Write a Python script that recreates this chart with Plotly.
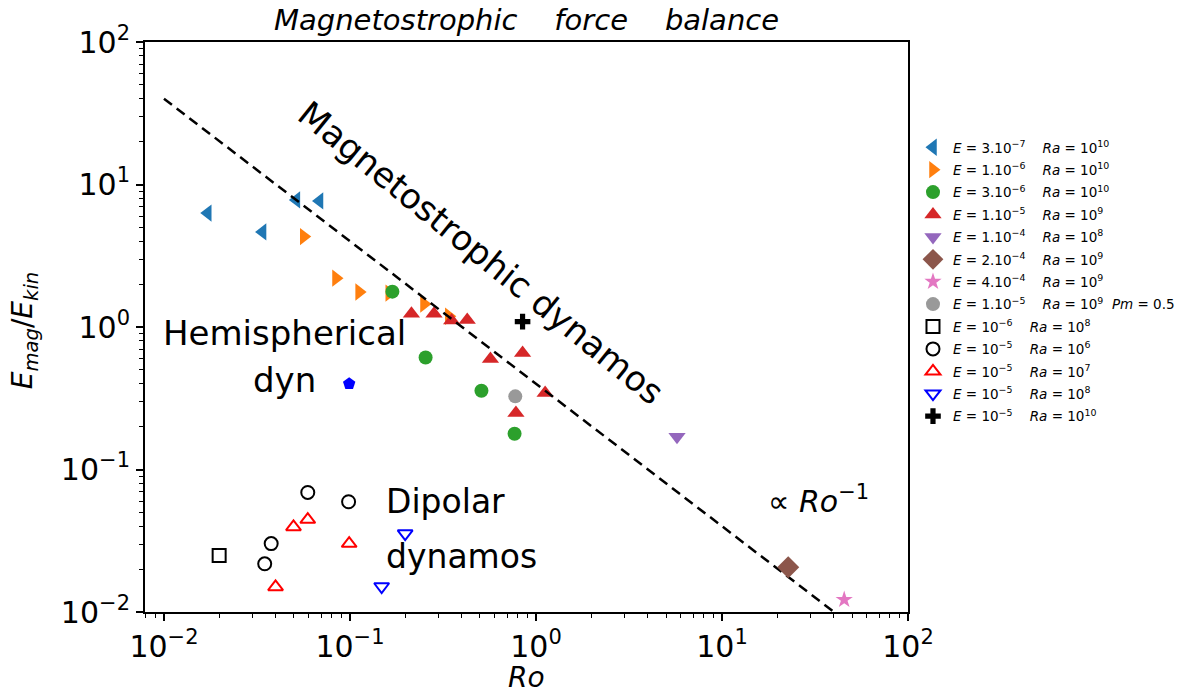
import numpy as np
import plotly.graph_objects as go

# --- data (Ro, Emag/Ekin) -----------------------------------------------
blue_ro = [0.0172, 0.0339, 0.0515, 0.0686]
blue_em = [6.3, 4.65, 7.8, 7.67]

orange_ro = [0.0564, 0.0841, 0.112, 0.1626, 0.250, 0.340]
orange_em = [4.31, 2.20, 1.76, 1.73, 1.45, 1.19]

green_ro = [0.169, 0.255, 0.509, 0.767]
green_em = [1.77, 0.611, 0.357, 0.178]

red_ro = [0.214, 0.283, 0.352, 0.427, 0.569, 0.847, 1.12, 0.780]
red_em = [1.24, 1.24, 1.11, 1.12, 0.596, 0.656, 0.344, 0.249]

purple_ro = [5.73]
purple_em = [0.170]

brown_ro = [22.7]
brown_em = [0.0206]

pink_ro = [45.4]
pink_em = [0.0122]

gray_ro = [0.774]
gray_em = [0.326]

square_ro = [0.0198]
square_em = [0.0249]

ocirc_ro = [0.0593, 0.0983, 0.0377, 0.0348]
ocirc_em = [0.069, 0.0594, 0.0302, 0.0218]

otri_ro = [0.0593, 0.0497, 0.099, 0.0398]
otri_em = [0.0445, 0.0395, 0.0302, 0.015]

odown_ro = [0.198, 0.148]
odown_em = [0.0355, 0.0151]

cross_ro = [0.847]
cross_em = [1.09]

penta_ro = [0.099]
penta_em = [0.40]

# Ro^-1 scaling line
line_ro = [0.01, 40]
line_em = [40, 0.01]

# tick labels (decades)
tick_vals = [0.01, 0.1, 1, 10, 100]
tick_text = ["10<sup>−2</sup>", "10<sup>−1</sup>", "10<sup>0</sup>", "10<sup>1</sup>", "10<sup>2</sup>"]

NB = "\u00a0"
FONT = "DejaVu Sans"

# the page body has an 8 px margin: figure is drawn at (8, 8)
W, H, OFF = 1184, 682, 8
# plot area in page pixels
X0, X1, Y0, Y1 = 145, 910, 42, 612


def lab(e, ra, extra=""):
    s = f"<i>E</i> = {e}{NB*4}<i>Ra</i> = {ra}"
    if extra:
        s += NB * 2 + extra
    return s


# page pixel -> paper helpers
def px(x):
    return (x - X0) / (X1 - X0)


def py(y):
    return (Y1 - y) / (Y1 - Y0)


fig = go.Figure()


def add(x, y, name, symbol, color, size=14, open_=False, legend=True):
    marker = dict(symbol=symbol, size=size, color=color)
    if open_:
        marker["line"] = dict(width=2, color=color)
    else:
        marker["line"] = dict(width=0)
    fig.add_trace(go.Scatter(
        x=x, y=y, mode="markers", name=name, marker=marker,
        showlegend=legend, legendgroup=name,
    ))


add(blue_ro, blue_em, lab("3.10<sup>−7</sup>", "10<sup>10</sup>"), "triangle-left", "#1f77b4", 15)
add(orange_ro, orange_em, lab("1.10<sup>−6</sup>", "10<sup>10</sup>"), "triangle-right", "#ff7f0e", 15)
add(green_ro, green_em, lab("3.10<sup>−6</sup>", "10<sup>10</sup>"), "circle", "#2ca02c", 14)
add(red_ro, red_em, lab("1.10<sup>−5</sup>", "10<sup>9</sup>"), "triangle-up", "#d62728", 15)

fig.add_trace(go.Scatter(
    x=line_ro, y=line_em, mode="lines", showlegend=False, hoverinfo="skip",
    line=dict(color="black", width=2.5, dash="10px,6px"),
))

add(purple_ro, purple_em, lab("1.10<sup>−4</sup>", "10<sup>8</sup>"), "triangle-down", "#9467bd", 15)
add(brown_ro, brown_em, lab("2.10<sup>−4</sup>", "10<sup>9</sup>"), "diamond", "#8c564b", 17)
add(pink_ro, pink_em, lab("4.10<sup>−4</sup>", "10<sup>9</sup>"), "star", "#e377c2", 13)
add(gray_ro, gray_em, lab("1.10<sup>−5</sup>", "10<sup>9</sup>", "<i>Pm</i> = 0.5"), "circle", "#999999", 14)
add(square_ro, square_em, lab("10<sup>−6</sup>", "10<sup>8</sup>"), "square-open", "black", 13, open_=True)
add(ocirc_ro, ocirc_em, lab("10<sup>−5</sup>", "10<sup>6</sup>"), "circle-open", "black", 13, open_=True)
add(otri_ro, otri_em, lab("10<sup>−5</sup>", "10<sup>7</sup>"), "triangle-up-open", "red", 13, open_=True)
add(odown_ro, odown_em, lab("10<sup>−5</sup>", "10<sup>8</sup>"), "triangle-down-open", "blue", 13, open_=True)
add(cross_ro, cross_em, lab("10<sup>−5</sup>", "10<sup>10</sup>"), "cross", "black", 13)
add(penta_ro, penta_em, "pentagon", "pentagon", "blue", 13, legend=False)

minor_vals = [m * 10.0 ** d for d in range(-3, 2) for m in range(2, 10)]

axis_common = dict(
    type="log", showline=True, linecolor="black", linewidth=2, mirror=True,
    ticks="outside", ticklen=7, tickwidth=1.5, tickcolor="black",
    tickmode="array", tickvals=tick_vals, ticktext=tick_text,
    showgrid=False, zeroline=False,
    tickfont=dict(size=30, color="black", family=FONT),
    minor=dict(tickmode="array", tickvals=minor_vals, ticks="outside",
               ticklen=4, tickwidth=1, tickcolor="black", showgrid=False),
)
fig.update_xaxes(range=[-2.102, 2], **axis_common)
fig.update_yaxes(range=[-2, 2], **axis_common)

annotations = [
    dict(x=px(527), y=py(20), text=f"<i>Magnetostrophic{NB*4}force{NB*4}balance</i>",
         font=dict(size=29)),
    dict(x=px(527), y=py(677), text="<i>Ro</i>", font=dict(size=28)),
    dict(x=px(24), y=py(330), text="<i>E</i><sub><i>mag</i></sub>/<i>E</i><sub><i>kin</i></sub>",
         font=dict(size=28), textangle=-90),
    dict(x=px(482), y=py(253), text="Magnetostrophic dynamos", font=dict(size=34.5), textangle=39),
    dict(x=px(285), y=py(333), text="Hemispherical", font=dict(size=34)),
    dict(x=px(285), y=py(380), text="dyn", font=dict(size=34)),
    dict(x=px(385), y=py(501), text="Dipolar", font=dict(size=33), xanchor="left"),
    dict(x=px(385), y=py(556), text="dynamos", font=dict(size=33), xanchor="left"),
    dict(x=px(820), y=py(499), text="∝ <i>Ro</i><sup>−1</sup>", font=dict(size=30)),
]
for a in annotations:
    a.setdefault("xanchor", "center")
    a.update(xref="paper", yref="paper", yanchor="middle", showarrow=False)
    a["font"].update(color="black", family=FONT)

fig.update_layout(
    width=W, height=H,
    margin=dict(l=X0 - OFF, r=W + OFF - X1, t=Y0 - OFF, b=H + OFF - Y1),
    plot_bgcolor="white", paper_bgcolor="white",
    font=dict(family=FONT, color="black"),
    showlegend=True,
    legend=dict(
        x=px(915), y=py(132), xanchor="left", yanchor="top",
        font=dict(size=13.5, family=FONT, color="black"),
        bgcolor="rgba(0,0,0,0)", borderwidth=0, tracegroupgap=1.85,
    ),
    annotations=annotations,
)

fig.write_html("out.html")
